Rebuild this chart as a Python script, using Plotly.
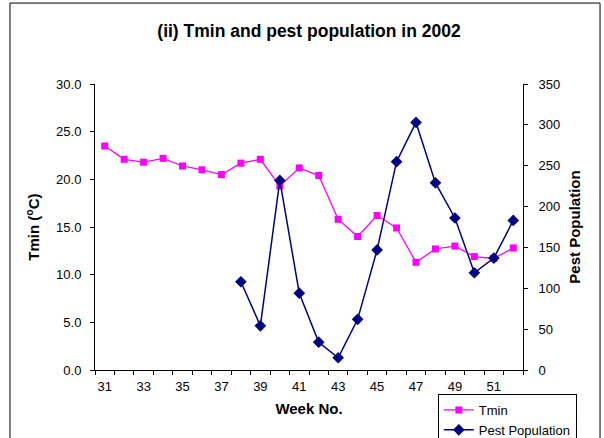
import plotly.graph_objects as go

weeks = list(range(31, 53))
tmin = [23.5, 22.1, 21.8, 22.2, 21.4, 21.0, 20.5, 21.7, 22.1, 19.3, 21.2, 20.4,
        15.8, 14.0, 16.2, 14.9, 11.3, 12.7, 13.0, 11.9, 11.7, 12.8]
pest = [None, None, None, None, None, None, None, 108, 54, 232, 94, 34,
        15, 62, 147, 255, 303, 229, 186, 119, 137, 183]
xticks = list(range(31, 52, 2))

FONT = "Liberation Sans, Arial, sans-serif"

fig = go.Figure()
fig.add_trace(go.Scatter(
    x=weeks, y=tmin, name="Tmin", mode="lines+markers",
    line=dict(color="#FF00FF", width=1.3),
    marker=dict(symbol="square", size=7, color="#FF00FF"),
    yaxis="y"))
fig.add_trace(go.Scatter(
    x=weeks, y=pest, name="Pest Population", mode="lines+markers",
    line=dict(color="#000080", width=1.5),
    marker=dict(symbol="diamond", size=9, color="#000080"),
    connectgaps=False, yaxis="y2"))

fig.update_layout(
    width=604, height=438,
    margin=dict(l=95, r=81, t=84, b=68, autoexpand=False),
    paper_bgcolor="white", plot_bgcolor="white",
    font=dict(family=FONT, size=13, color="black"),
    title=dict(text="<b>(ii) Tmin and pest population in 2002</b>",
               x=0.5, xref="paper", xanchor="center", y=0.929, yanchor="middle",
               font=dict(size=17.5, family=FONT, color="black")),
    xaxis=dict(range=[30.5, 52.5], tickvals=xticks, ticktext=[str(t) for t in xticks],
               ticks="", showline=True, linecolor="black", linewidth=1,
               showgrid=False, zeroline=False, automargin=False,
               minor=dict(ticks="outside", tick0=30.5, dtick=1, ticklen=4,
                          tickcolor="black", showgrid=False),
               tickfont=dict(size=13), ticklabelstandoff=4,
               title=dict(text="<b>Week No.</b>", font=dict(size=15), standoff=10)),
    yaxis=dict(range=[0, 30], dtick=5, tickformat=".1f", ticks="outside", ticklen=4,
               tickcolor="black", showline=True, linecolor="black", linewidth=1,
               showgrid=False, zeroline=False, tickfont=dict(size=13),
               ticklabelstandoff=6, automargin=False,
               title=dict(text="<b>Tmin (<sup>o</sup>C)</b>", font=dict(size=15), standoff=12)),
    yaxis2=dict(range=[0, 350], dtick=50, overlaying="y", side="right",
                ticks="outside", ticklen=4, tickcolor="black",
                showline=True, linecolor="black", linewidth=1,
                showgrid=False, zeroline=False, tickfont=dict(size=13),
                ticklabelstandoff=8, automargin=False,
                title=dict(text="<b>Pest Population</b>", font=dict(size=15), standoff=10)),
    legend=dict(x=0.801, y=-0.084, xanchor="left", yanchor="top",
                bgcolor="white", bordercolor="black", borderwidth=1,
                font=dict(size=13), tracegroupgap=0, itemwidth=30),
    showlegend=True,
)

# outer chart frame
fig.add_shape(type="rect", xref="paper", yref="paper",
              x0=-0.1986, x1=1.18, y0=-0.5, y1=1.283,
              line=dict(color="black", width=1), fillcolor="rgba(0,0,0,0)", layer="below")

fig.write_html("out.html")
